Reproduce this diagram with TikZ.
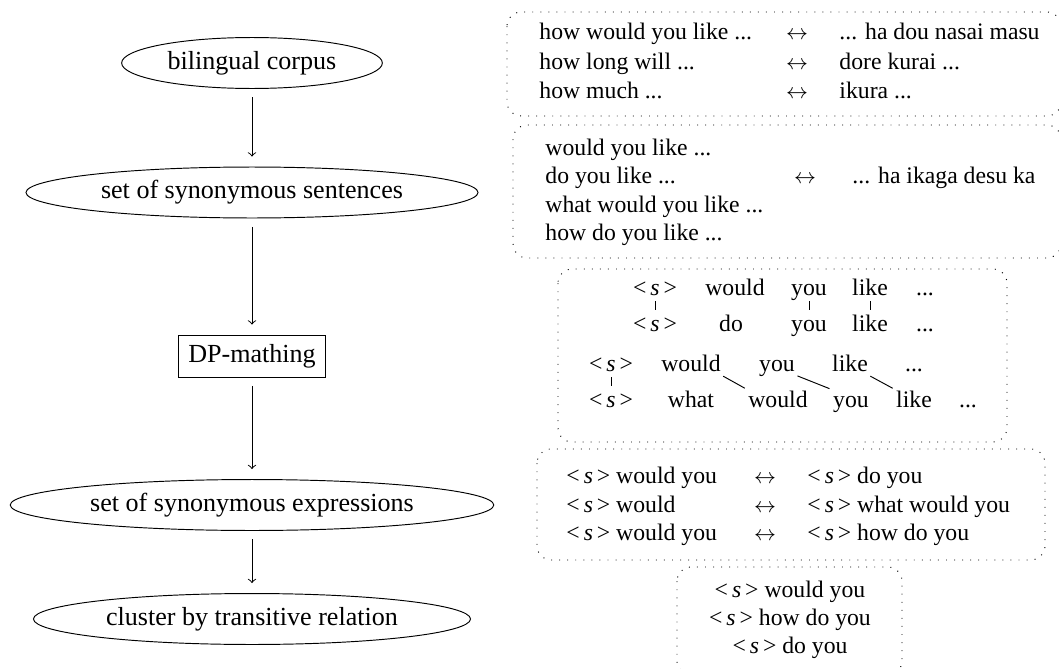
\documentclass[tikz,border=0pt]{standalone}
\usepackage{fontspec}
\setmainfont{Liberation Serif}
\usetikzlibrary{shapes.geometric}
\newcommand{\bos}{<\,\textit{s}\,>}
\newcommand{\lr}{{\small$\leftrightarrow$}}

\begin{document}
\begin{tikzpicture}[x=0.4219pt, y=-0.4219pt,
	stage/.style={draw, ellipse, inner sep=0pt, minimum height=21.5pt, font=\fontsize{11}{13}\selectfont},
	proc/.style={draw, rectangle, inner sep=0pt, minimum width=62.4pt, minimum height=17.7pt, font=\fontsize{11}{13}\selectfont},
	flow/.style={->, shorten <=3.6pt, shorten >=4.2pt},
	group/.style={draw, dash pattern=on 0.4pt off 3pt, rounded corners=6pt},
	txt/.style={inner sep=0pt, anchor=base west, font=\fontsize{10}{12}\selectfont},
	mid/.style={txt, anchor=base},
	word/.style={mid, text height=7pt, text depth=1.5pt},
	link/.style={shorten <=1pt, shorten >=1.5pt}]
			%%%%% START %%%%%
			\useasboundingbox (0,0) rectangle (1059,669);
			
			% processing steps
			\node[stage, minimum width=110pt] (corpus) at (252,63) {bilingual corpus};
			\node[stage, minimum width=190.7pt] (sent) at (252,192.5) {set of synonymous sentences};
			\node[proc] (dp) at (252,356) {DP-mathing};
			\node[stage, minimum width=204pt] (expr) at (252,505) {set of synonymous expressions};
			\node[stage, minimum width=184.4pt] (clust) at (252,619) {cluster by transitive relation};
			
			\draw[flow] (corpus) -- (sent);
			\draw[flow] (sent) -- (dp);
			\draw[flow] (dp) -- (expr);
			\draw[flow] (expr) -- (clust);
			
			% bilingual corpus
			\draw[group] (507,12) rectangle (1061,116);
			\node[txt] (p1) at (539,39) {how would you like ...};
			\node[txt] (p2) at (539,69) {how long will ...};
			\node[txt] (p3) at (539,98) {how much ...};
			\node[mid] (q1) at (797,39) {\lr};
			\node[mid] (q2) at (797,69) {\lr};
			\node[mid] (q3) at (797,98) {\lr};
			\node[txt] (j1) at (839,39) {... ha dou nasai masu};
			\node[txt] (j2) at (839,69) {dore kurai ...};
			\node[txt] (j3) at (839,98) {ikura ...};
			
			% synonymous sentences
			\draw[group] (513,125) rectangle (1061,258);
			\node[txt] (e1) at (545,155) {would you like ...};
			\node[txt] (e2) at (545,183.5) {do you like ...};
			\node[txt] (e3) at (545,212) {what would you like ...};
			\node[txt] (e4) at (545,240.5) {how do you like ...};
			\node[mid] (eq) at (805,183.5) {\lr};
			\node[txt] (ej) at (852,183.5) {... ha ikaga desu ka};
			
			% DP-matching
			\draw[group] (558,269) rectangle (1007,442);
			\node[word] (a1) at (655,295) {\bos};
			\node[word] (a2) at (735,295) {would};
			\node[word] (a3) at (809,295) {you};
			\node[word] (a4) at (870,295) {like};
			\node[word] (a5) at (925,295) {...};
			\node[word] (b1) at (655,331) {\bos};
			\node[word] (b2) at (731,331) {do};
			\node[word] (b3) at (809,331) {you};
			\node[word] (b4) at (870,331) {like};
			\node[word] (b5) at (925,331) {...};
			\draw[link] (a1) -- (b1);
			\draw[link] (a3) -- (b3);
			\draw[link] (a4) -- (b4);
			
			\node[word] (c1) at (611,371) {\bos};
			\node[word] (c2) at (691,371) {would};
			\node[word] (c3) at (777,371) {you};
			\node[word] (c4) at (850,371) {like};
			\node[word] (c5) at (914,371) {...};
			\node[word] (d1) at (611,407) {\bos};
			\node[word] (d2) at (691,407) {what};
			\node[word] (d3) at (778,407) {would};
			\node[word] (d4) at (851,407) {you};
			\node[word] (d5) at (914,407) {like};
			\node[word] (d6) at (968,407) {...};
			\draw[link] (c1) -- (d1);
			\draw[link] (c2.south east) -- (d3.north west);
			\draw[link] (c3.south east) -- (d4.north west);
			\draw[link] (c4.south east) -- (d5.north west);
			
			% synonymous expressions
			\draw[group] (537,449) rectangle (1045,560);
			\node[txt] (x1) at (566,483) {\bos{} would you};
			\node[txt] (x2) at (566,512) {\bos{} would};
			\node[txt] (x3) at (566,540) {\bos{} would you};
			\node[mid] (y1) at (765,483) {\lr};
			\node[mid] (y2) at (765,512) {\lr};
			\node[mid] (y3) at (765,540) {\lr};
			\node[txt] (z1) at (807,483) {\bos{} do you};
			\node[txt] (z2) at (807,512) {\bos{} what would you};
			\node[txt] (z3) at (807,540) {\bos{} how do you};
			
			% cluster
			\draw[group] (677,567) rectangle (902,675);
			\node[mid] (k1) at (790,597) {\bos{} would you};
			\node[mid] (k2) at (790,625) {\bos{} how do you};
			\node[mid] (k3) at (790,653) {\bos{} do you};
			
			%%%%% END %%%%%
\end{tikzpicture}
\end{document}
